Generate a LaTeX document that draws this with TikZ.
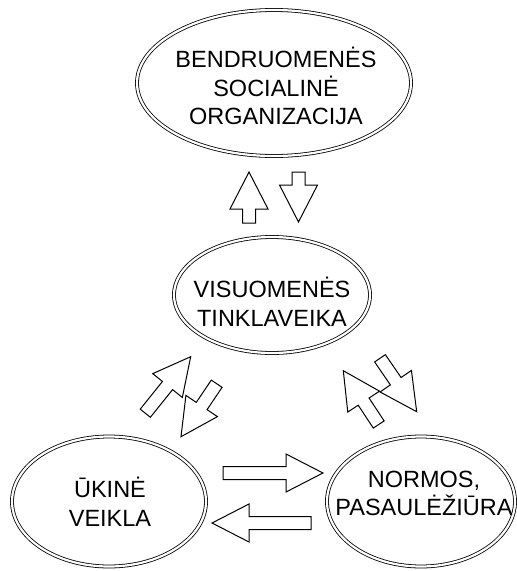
\documentclass[tikz,border=0pt]{standalone}
\usepackage{fontspec}
\setmainfont{Liberation Sans}
\usetikzlibrary{shapes.geometric,calc}
\tikzset{
  dellipse/.style={ellipse, draw=black, line width=0.8pt, double=white, double distance=2.2pt, inner sep=0pt, fill=white},
  lbl/.style={align=center, inner sep=0pt, font=\fontsize{23.5}{28.8}\selectfont},
  blk/.style={draw=black, fill=white, line width=1pt, line join=miter}
}
\newcommand\blockarrow[2]{%
  \coordinate (#1h) at ($(#2)!37pt!(#1)$);
  \filldraw[blk] ($(#1)!6.5pt!90:(#2)$) -- ($(#1h)!6.5pt!90:(#2)$) -- ($(#1h)!19pt!90:(#2)$) -- (#2)
     -- ($(#1h)!19pt!-90:(#2)$) -- ($(#1h)!6.5pt!-90:(#2)$) -- ($(#1)!6.5pt!-90:(#2)$) -- cycle;}
\begin{document}
\begin{tikzpicture}[x=1pt,y=-1pt]
\useasboundingbox (0,0) rectangle (517,571);
% ellipses
\node[dellipse, minimum width=274pt, minimum height=146pt] (top) at (274,83) {};
\node[dellipse, minimum width=196pt, minimum height=116pt] (mid) at (272,295) {};
\node[dellipse, minimum width=194pt, minimum height=130pt] (ukin) at (109,501.5) {};
\node[dellipse, minimum width=188pt, minimum height=130pt] (norm) at (421,501.5) {};
% texts
\node[lbl] (topt) at (276,86) {BENDRUOMENĖS\\SOCIALINĖ\\ORGANIZACIJA};
\node[lbl] (midt) at (272,302) {VISUOMENĖS\\TINKLAVEIKA};
\node[lbl] (ukint) at (110,502) {ŪKINĖ\\VEIKLA};
\node[lbl] (normt) at (424,493.5) {NORMOS,\\PASAULĖŽIŪRA};
% arrow end points
\coordinate (a1s) at (249,223);   \coordinate (a1e) at (249,172);
\coordinate (a2s) at (298.5,172); \coordinate (a2e) at (298.5,222);
\coordinate (a3s) at (145.3,413.2); \coordinate (a3e) at (190.7,356.7);
\coordinate (a4s) at (216.7,383.7); \coordinate (a4e) at (181,436.7);
\coordinate (a5s) at (378.7,424.5); \coordinate (a5e) at (343.3,370.7);
\coordinate (a6s) at (380,358.3); \coordinate (a6e) at (416.7,411.7);
\coordinate (a7s) at (223,473); \coordinate (a7e) at (323,473);
\coordinate (a8s) at (311,523); \coordinate (a8e) at (212,523);
\blockarrow{a1s}{a1e}
\blockarrow{a2s}{a2e}
\blockarrow{a3s}{a3e}
\blockarrow{a4s}{a4e}
\blockarrow{a5s}{a5e}
\blockarrow{a6s}{a6e}
\blockarrow{a7s}{a7e}
\blockarrow{a8s}{a8e}
\end{tikzpicture}
\end{document}
